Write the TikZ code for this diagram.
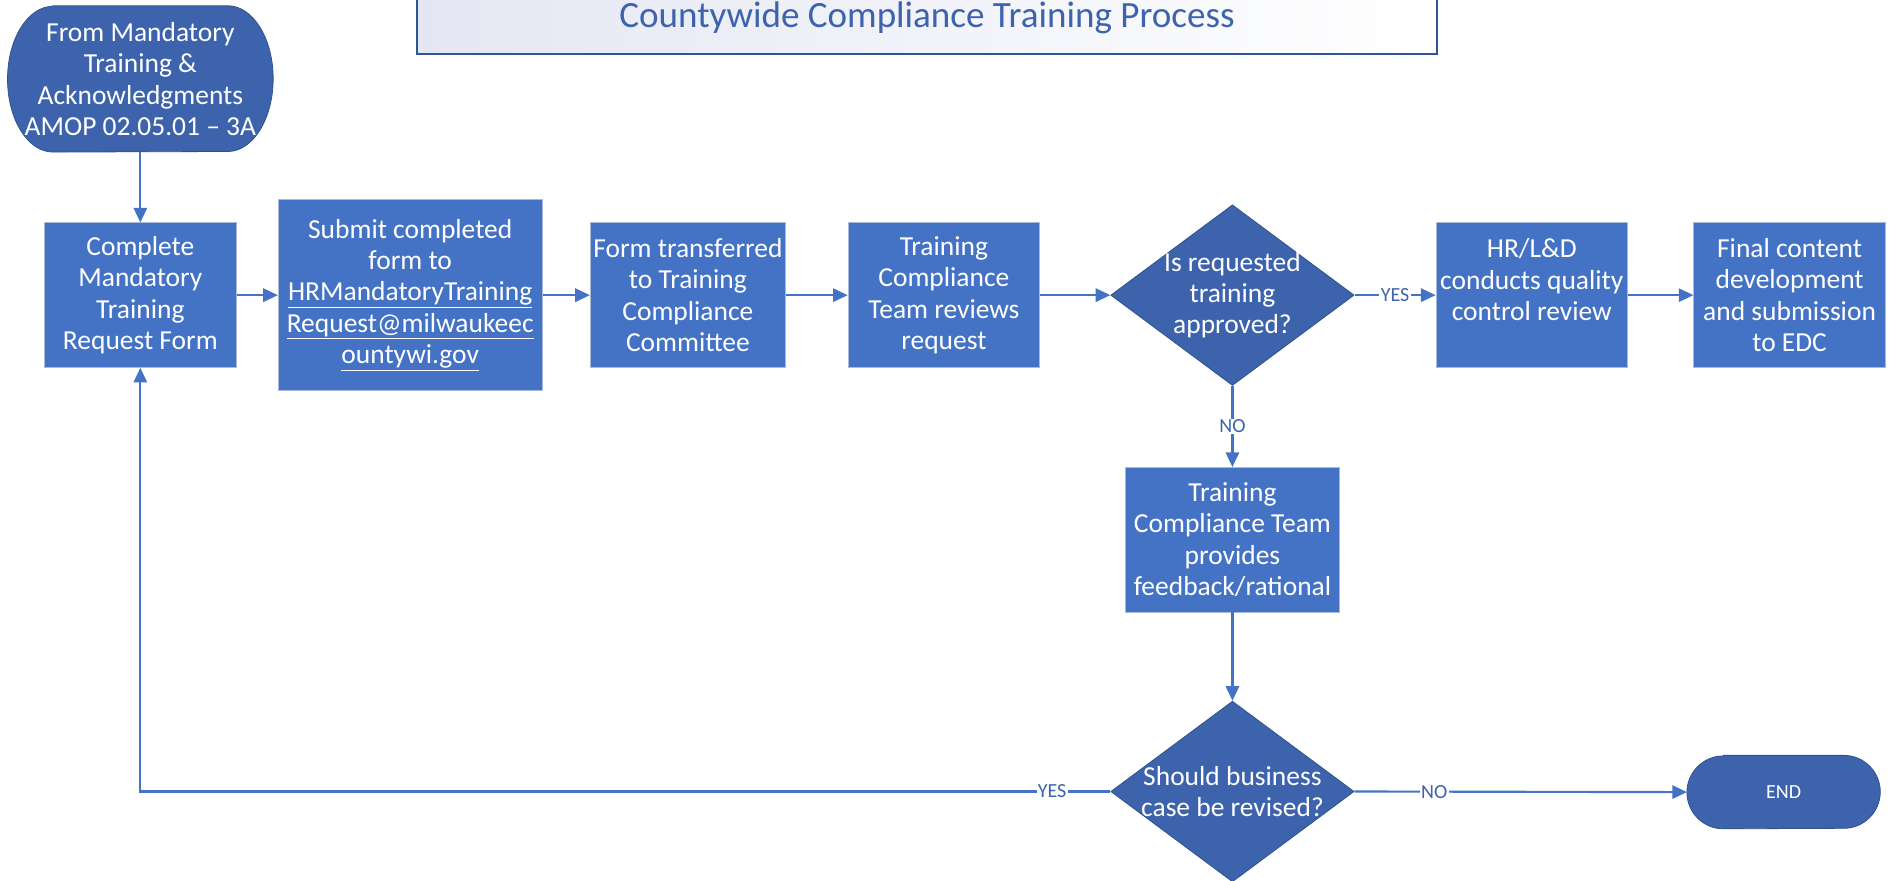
\documentclass[tikz,border=0pt]{standalone}
\usepackage{fontspec}
\setmainfont{Carlito}
\usetikzlibrary{shapes.geometric,arrows.meta}

\definecolor{procblue}{HTML}{4472C4}
\definecolor{deepblue}{HTML}{3D63AC}
\definecolor{edgeblue}{HTML}{2F528F}
\definecolor{rimgray}{HTML}{A9B9DA}
\definecolor{titleblue}{HTML}{3D63AD}
\definecolor{titlerim}{HTML}{2F5597}
\definecolor{titleshade}{HTML}{E4E7F3}

\tikzset{
  boxtext/.style={font=\fontsize{20.6}{23.5}\selectfont, text=white, align=center},
  procbox/.style={rectangle, fill=procblue, draw=rimgray, line width=0.6pt,
    boxtext, inner sep=1pt, minimum height=108.4pt},
  decision/.style={diamond, fill=deepblue, draw=edgeblue, line width=0.6pt,
    inner sep=0pt, minimum width=182.5pt, minimum height=135.5pt},
  termframe/.style={rectangle, inner sep=0pt},
  termfill/.style={fill=deepblue, draw=edgeblue, line width=0.6pt},
  flow/.style={draw=procblue, line width=1.6pt, -{Triangle[length=11pt,width=10pt]}},
  tag/.style={fill=white, text=titleblue, font=\fontsize{15}{17}\selectfont, inner sep=1pt},
  headline/.style={rectangle, draw=titlerim, line width=1.2pt,
    left color=titleshade, right color=white, text=titleblue,
    font=\fontsize{27.8}{32}\selectfont, minimum width=765.3pt, minimum height=54.2pt}
}

% terminator outline with elliptical ends, drawn around an empty frame node
\newcommand\termshape[3]{%
  \path[termfill]
    ([xshift=#2]#1.north west) -- ([xshift=-#2]#1.north east)
    arc[start angle=90, end angle=-90, x radius=#2, y radius=#3]
    -- ([xshift=#2]#1.south west)
    arc[start angle=270, end angle=90, x radius=#2, y radius=#3] -- cycle;}

\begin{document}
\begin{tikzpicture}[x=0.9035pt, y=-0.9035pt]
\useasboundingbox (0,0) rectangle (1568,731);

% title banner
\node[headline] (title) at (769.5,15) {Countywide Compliance Training Process};

% start terminator
\node[termframe, minimum width=198.8pt, minimum height=109.3pt] (start) at (116.5,65.5) {};
\termshape{start}{34pt}{54.65pt}
\node[boxtext] (starttext) at (start.center)
  {From Mandatory\\Training \&\\Acknowledgments\\AMOP 02.05.01 – 3A};

% main row
\node[procbox, minimum width=143.7pt] (b1) at (116.5,245)
  {Complete\\Mandatory\\Training\\Request Form};
\node[procbox, minimum width=197.9pt, minimum height=143.3pt] (b2) at (340.5,245)
  {Submit completed\\form to\\\underline{HRMandatoryTraining}\\\underline{Request@milwaukeec}\\\underline{ountywi.gov}};
\node[procbox, minimum width=146.4pt] (b3) at (571,245)
  {Form transferred\\to Training\\Compliance\\Committee};
\node[procbox, minimum width=143.7pt] (b4) at (783.5,245)
  {Training\\Compliance\\Team reviews\\request};
\node[decision] (d1) at (1023,245) {};
\node[boxtext] (d1text) at (d1.center) {Is requested\\training\\approved?};
\node[procbox, minimum width=143.7pt] (b5) at (1271.5,245)
  {HR/L\&D\\conducts quality\\control review\\\mbox{}};
\node[procbox, minimum width=143.7pt] (b6) at (1485.5,245)
  {Final content\\development\\and submission\\to EDC};

% rejection branch
\node[procbox, minimum width=160.8pt] (b7) at (1023,448)
  {Training\\Compliance Team\\provides\\feedback/rational};
\node[decision] (d2) at (1023,657) {};
\node[boxtext] (d2text) at (d2.center) {Should business\\case be revised?};

% end terminator
\node[termframe, minimum width=144.6pt, minimum height=54.7pt] (stop) at (1480.5,657.5) {};
\termshape{stop}{27.35pt}{27.35pt}
\node[text=white, font=\fontsize{15}{17}\selectfont] (stoptext) at (stop.center) {END};

% connectors
\draw[flow] (start.south) -- (b1.north);
\draw[flow] (b1.east) -- (b2.west);
\draw[flow] (b2.east) -- (b3.west);
\draw[flow] (b3.east) -- (b4.west);
\draw[flow] (b4.east) -- (d1.west);
\draw[flow] (d1.east) -- node[tag] {YES} (b5.west);
\draw[flow] (b5.east) -- (b6.west);
\draw[flow] (d1.south) -- node[tag] {NO} (b7.north);
\draw[flow] (b7.south) -- (d2.north);
\draw[flow] (d2.east) -- node[tag, pos=0.24] {NO} (stop.west);
\draw[flow] (d2.west) -| node[tag, pos=0.03] {YES} (b1.south);
\end{tikzpicture}
\end{document}
